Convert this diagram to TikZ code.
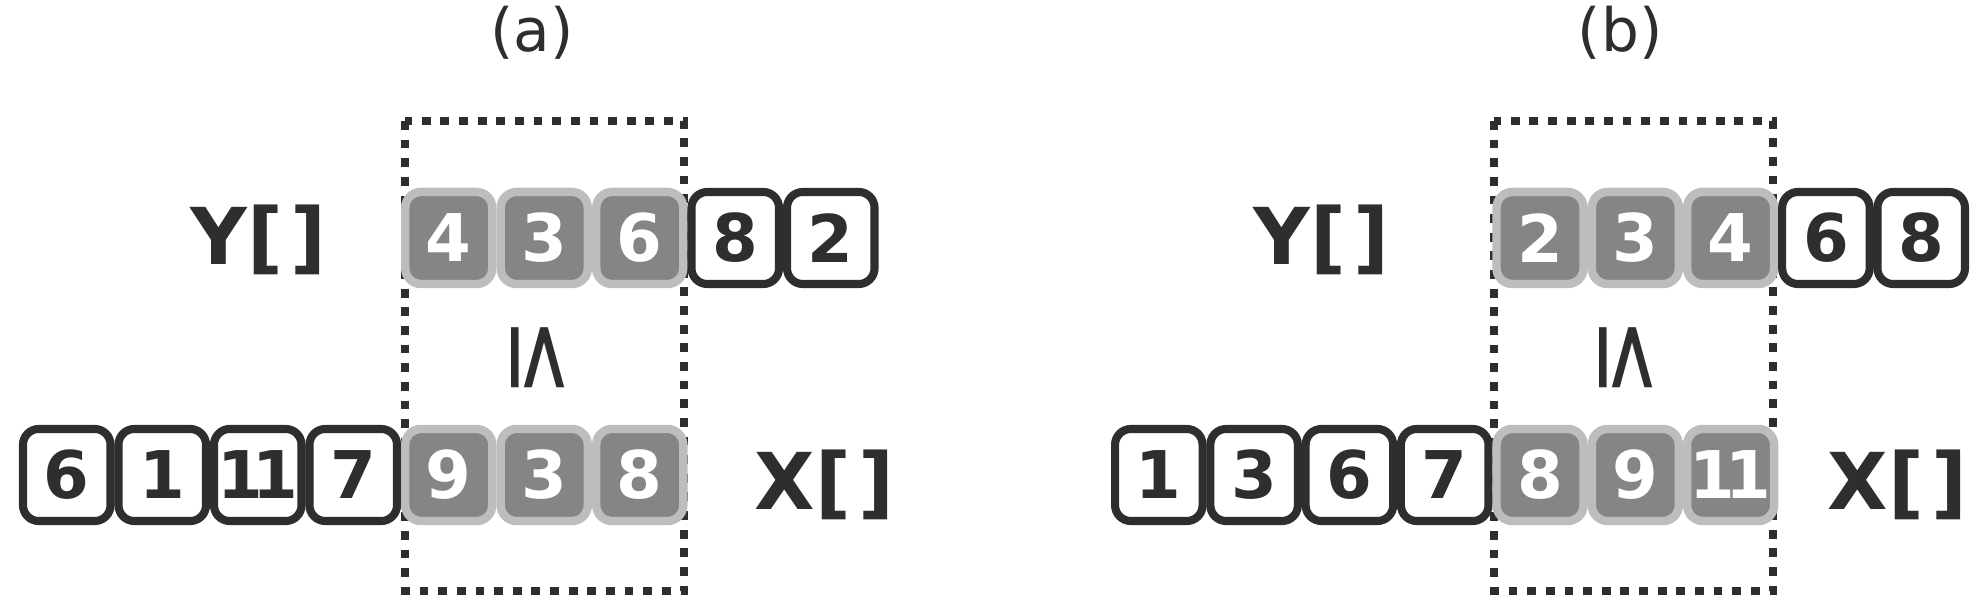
\documentclass[tikz,border=0pt]{standalone}
\usepackage{fontspec}
\setmainfont{DejaVu Sans}
\usetikzlibrary{positioning}
\definecolor{inkgray}{HTML}{2E2E2E}
\definecolor{cellgray}{HTML}{858585}
\definecolor{halogray}{HTML}{BDBDBD}
\tikzset{
  cell/.style={draw=inkgray,line width=2.3pt,rounded corners=4.5pt,fill=white,text=inkgray,
    minimum width=0.875cm,minimum height=0.92cm,inner sep=0pt,
    font=\fontsize{18.7}{20}\selectfont\bfseries},
  hicell/.style={cell,draw=halogray,line width=2.4pt,fill=cellgray,text=white,
    minimum width=0.87cm,minimum height=0.92cm},
  window/.style={draw=inkgray,line width=2.4pt,dash pattern=on 2.5pt off 2.8pt},
  arrname/.style={font=\fontsize{22.3}{24}\selectfont\bfseries,text=inkgray,inner sep=0pt,anchor=base west},
  panel/.style={font=\fontsize{17}{18}\selectfont,text=inkgray},
  lesym/.style={rotate=-90,xscale=1.05,font=\fontsize{26}{26}\selectfont,text=inkgray,inner sep=0pt}
}
\newcommand\eleven{1\kern-2.9pt1}
\begin{document}
\begin{tikzpicture}[x=0.01cm,y=-0.01cm]
\useasboundingbox (0,0) rectangle (1986,604);
% (a)
\node[panel] (pa) at (532,33) {(a)};
\draw[window] (405,121) rectangle (684,591);
\foreach \v [count=\i] in {6,1,\eleven,7}{\node[cell] (xa\i) at ({-28.75+95.5*\i},475) {\v};}
\foreach \v [count=\i from 5] in {9,3,8}{\node[hicell] (xa\i) at ({-28.75+95.5*\i},475) {\v};}
\foreach \v [count=\i] in {4,3,6}{\node[hicell] (ya\i) at ({353.25+95.5*\i},238) {\v};}
\foreach \v [count=\i from 4] in {8,2}{\node[cell] (ya\i) at ({353.25+95.5*\i},238) {\v};}
\node[arrname] (ylaba) at (190,265) {Y[\kern2pt]};
\node[arrname] (xlaba) at (754,510) {X[\kern2pt]};
\node[lesym] (lea) at (538,358) {≤};
% (b)
\node[panel] (pb) at (1620,33) {(b)};
\draw[window] (1494,121) rectangle (1773,591);
\foreach \v [count=\i] in {1,3,6,7}{\node[cell] (xb\i) at ({1063.5+95.3*\i},475) {\v};}
\foreach \v [count=\i from 5] in {8,9,\eleven}{\node[hicell] (xb\i) at ({1063.5+95.3*\i},475) {\v};}
\foreach \v [count=\i] in {2,3,4}{\node[hicell] (yb\i) at ({1444.7+95.3*\i},238) {\v};}
\foreach \v [count=\i from 4] in {6,8}{\node[cell] (yb\i) at ({1444.7+95.3*\i},238) {\v};}
\node[arrname] (ylabb) at (1253,265) {Y[\kern2pt]};
\node[arrname] (xlabb) at (1827,510) {X[\kern2pt]};
\node[lesym] (leb) at (1626,358) {≤};
\end{tikzpicture}
\end{document}
